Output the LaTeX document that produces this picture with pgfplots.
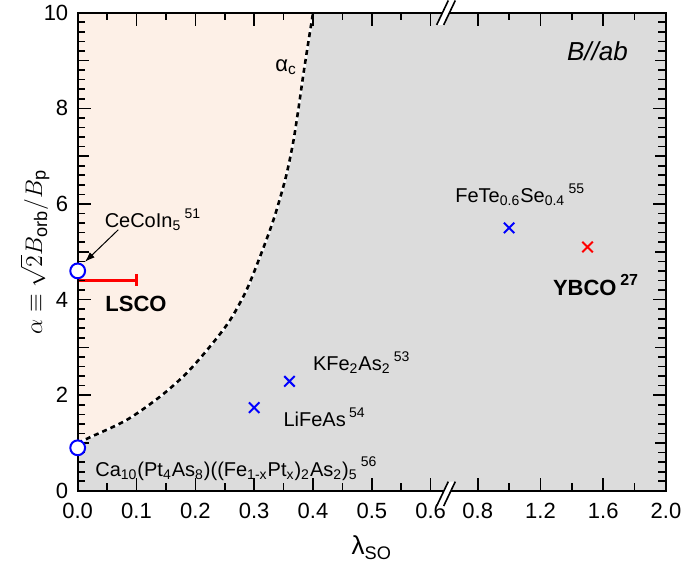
\documentclass[border=0pt]{standalone}
\usepackage{fontspec}
\setmainfont{Liberation Sans}
\usepackage{pgfplots}
\usepackage{pgfplotstable}
\pgfplotsset{compat=1.18}
\usetikzlibrary{arrows.meta}

\definecolor{peach}{RGB}{253,240,231}
\definecolor{bggray}{RGB}{220,220,220}

% superscript reference numbers
\newcommand{\sps}[1]{\,\raisebox{0.9ex}{\fontsize{7}{8}\selectfont #1}}
% axis break mark "//"
\newcommand{\brk}[1]{%
  \fill[white] ([shift={(-4.65pt,-6.1pt)}]#1) -- ++(3.5pt,0) -- ++(5.8pt,12.2pt) -- ++(-3.5pt,0) -- cycle;
  \draw[line width=0.8pt] ([shift={(-4.65pt,-6.1pt)}]#1) -- ++(5.8pt,12.2pt);
  \draw[line width=0.8pt] ([shift={(-1.15pt,-6.1pt)}]#1) -- ++(5.8pt,12.2pt);
}

% alpha_c curve
\pgfplotstableread{
x y
0.000 1.00
0.021 1.12
0.083 1.48
0.140 1.97
0.185 2.46
0.225 3.02
0.259 3.57
0.287 4.20
0.310 4.90
0.327 5.46
0.338 5.87
0.354 6.57
0.366 7.27
0.375 7.97
0.383 8.66
0.391 9.30
0.399 9.92
0.400 10.0
}\curve

\begin{document}
\begin{tikzpicture}
\begin{axis}[
  name=ax,
  scale only axis,
  width=294.2pt, height=239.1pt,
  xmin=0, xmax=1, ymin=0, ymax=10,
  axis on top,
  axis line style={line width=1pt},
  xtick={0,0.1,0.2,0.3,0.4,0.5,0.6,0.68,0.78667,0.89333,1},
  xticklabels={0.0,0.1,0.2,0.3,0.4,0.5,0.6,0.8,1.2,1.6,2.0},
  ytick={0,2,4,6,8,10},
  major tick style={draw=none},
  minor tick style={draw=none},
  tick label style={font=\fontsize{11}{13}\selectfont},
  /pgf/number format/assume math mode=true,
  xticklabel style={yshift=-2.8pt},
  yticklabel style={xshift=-1.2pt},
  ylabel={$\alpha\equiv\sqrt{2}B_{\mathrm{orb}}/B_{\mathrm{p}}$},
  ylabel style={at={(axis description cs:-0.0726,0.5)}, anchor=center, font=\fontsize{13}{15}\selectfont},
  xlabel={λ\textsubscript{SO}},
  xlabel style={at={(axis description cs:0.5,-0.119)}, anchor=center, font=\fontsize{13}{15}\selectfont},
]

% background and regions
\fill[bggray] (rel axis cs:0,0) rectangle (rel axis cs:1,1);
\addplot[fill=peach, draw=none] table {\curve} -- (axis cs:0,10) -- cycle;
\addplot[white, line width=1.3pt, smooth] table {\curve};
\addplot[black, line width=1.3pt, dash pattern=on 2.5pt off 2pt, smooth] table {\curve};

% LSCO range
\addplot[red, line width=1.3pt, mark=none,
  error bars/.cd, x dir=both, x explicit,
  error mark=|,
  error bar style={line width=1.3pt},
  error mark options={rotate=0, mark size=3pt, line width=1.3pt}]
  coordinates {(0.05,4.4) +- (0.05,0)};

% open circles
\addplot[only marks, mark=*, mark size=3.7pt,
  mark options={draw=blue, fill=white, line width=1pt}]
  coordinates {(0,4.6) (0,0.9)};

% crosses, left part
\addplot[only marks, mark=x, mark size=3.7pt, blue, mark options={line width=1pt}]
  coordinates {(0.30,1.74) (0.36,2.29)};
% crosses, right part (0.8 .. 2.0 compressed)
\addplot[only marks, mark=x, mark size=3.7pt, blue, mark options={line width=1pt},
  x filter/.expression={0.68+(x-0.8)/3.75}]
  coordinates {(1.0,5.5)};
\addplot[only marks, mark=x, mark size=3.7pt, red, mark options={line width=1pt},
  x filter/.expression={0.68+(x-0.8)/3.75}]
  coordinates {(1.5,5.1)};

% labels
\node[anchor=base west, font=\fontsize{10}{12}\selectfont] at (axis cs:0.034,5.50) {CeCoIn\textsubscript{5}\sps{51}};
\draw[-{Latex[length=5pt,width=3.5pt]}, line width=0.5pt] (axis cs:0.069,5.46) -- (axis cs:0.0124,4.79);
\node[anchor=base west, font=\fontsize{11}{13}\selectfont\bfseries] at (axis cs:0.0351,3.75) {LSCO};
\node[anchor=base west, font=\fontsize{10}{12}\selectfont] at (axis cs:0.018,0.30)
  {Ca\textsubscript{10}(Pt\textsubscript{4}As\textsubscript{8})((Fe\textsubscript{1-x}Pt\textsubscript{x})\textsubscript{2}As\textsubscript{2})\textsubscript{5}\sps{56}};
\node[anchor=base west, font=\fontsize{10}{12}\selectfont] at (axis cs:0.338,1.34) {LiFeAs\sps{54}};
\node[anchor=base west, font=\fontsize{10}{12}\selectfont] at (axis cs:0.388,2.51) {KFe\textsubscript{2}As\textsubscript{2}\sps{53}};
\node[anchor=base west, font=\fontsize{10}{12}\selectfont] at (axis cs:0.630,6.03) {FeTe\textsubscript{0.6}Se\textsubscript{0.4}\sps{55}};
\node[anchor=base west, font=\fontsize{11}{13}\selectfont\bfseries] at (axis cs:0.796,4.08) {YBCO\,\raisebox{0.9ex}{\fontsize{8}{9}\selectfont\bfseries 27}};
\node[anchor=base east, font=\fontsize{13}{15}\selectfont\itshape] at (axis cs:0.947,9.00) {B//ab};
\node[anchor=base west, font=\fontsize{11}{13}\selectfont] at (axis cs:0.324,8.77) {α\textsubscript{c}};

% tick marks, inside on all four sides
\pgfplotsinvokeforeach{0.1,0.2,0.3,0.4,0.5,0.6,0.68,0.78667,0.89333}{
  \draw[line width=0.8pt] (rel axis cs:#1,0) -- ++(0,6.5pt);
  \draw[line width=0.8pt] (rel axis cs:#1,1) -- ++(0,-6.5pt);
}
\pgfplotsinvokeforeach{0.05,0.15,0.25,0.35,0.45,0.55,0.73333,0.84,0.94667}{
  \draw[line width=0.8pt] (rel axis cs:#1,0) -- ++(0,3.8pt);
  \draw[line width=0.8pt] (rel axis cs:#1,1) -- ++(0,-3.8pt);
}
\pgfplotsinvokeforeach{0.2,0.4,0.6,0.8}{
  \draw[line width=0.8pt] (rel axis cs:0,#1) -- ++(6.5pt,0);
  \draw[line width=0.8pt] (rel axis cs:1,#1) -- ++(-6.5pt,0);
}
\pgfplotsinvokeforeach{0.1,0.3,0.5,0.7,0.9}{
  \draw[line width=0.8pt] (rel axis cs:0,#1) -- ++(5.5pt,0);
  \draw[line width=0.8pt] (rel axis cs:1,#1) -- ++(-5.5pt,0);
}
\pgfplotsinvokeforeach{0.02,0.04,0.06,0.08,0.12,0.14,0.16,0.18,0.22,0.24,0.26,0.28,0.32,0.34,0.36,0.38,0.42,0.44,0.46,0.48,0.52,0.54,0.56,0.58,0.62,0.64,0.66,0.68,0.72,0.74,0.76,0.78,0.82,0.84,0.86,0.88,0.92,0.94,0.96,0.98}{
  \draw[line width=0.8pt] (rel axis cs:0,#1) -- ++(3.8pt,0);
  \draw[line width=0.8pt] (rel axis cs:1,#1) -- ++(-3.8pt,0);
}

\coordinate (bt) at (rel axis cs:0.626,1);
\coordinate (bb) at ([yshift=-1.5pt]rel axis cs:0.626,0);
\end{axis}
\brk{bt}
\brk{bb}
\pgfresetboundingbox
\path[use as bounding box] ([shift={(-38.85pt,-44.55pt)}]ax.south west) rectangle ([shift={(9.5pt,6.35pt)}]ax.north east);
\end{tikzpicture}
\end{document}
